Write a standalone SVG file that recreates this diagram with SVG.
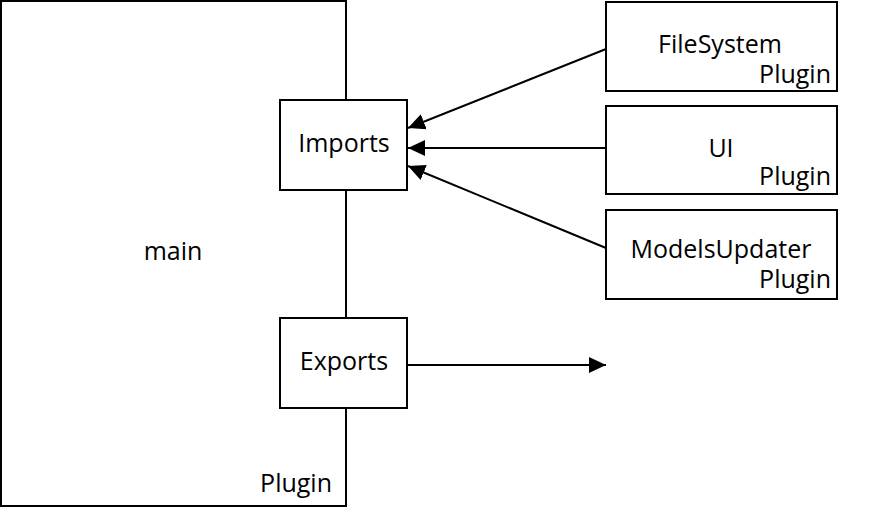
<svg xmlns="http://www.w3.org/2000/svg" width="870" height="508" viewBox="0 0 870 508">
<defs>
<style>
.box{fill:#fff;stroke:#000;stroke-width:2}
.t{font-family:"Open Sans","Noto Sans",sans-serif;font-size:25px;fill:#000}
.m{text-anchor:middle}
.e{text-anchor:end}
.c{stroke:#000;stroke-width:2;fill:none;marker-end:url(#ah)}
</style>
<marker id="ah" markerUnits="userSpaceOnUse" markerWidth="18" markerHeight="18" refX="17" refY="8" orient="auto" viewBox="0 0 18 16">
<path d="M0,0 L17,8 L0,16 z" fill="#000"/>
</marker>
</defs>
<g id="main">
<rect class="box" x="1" y="1" width="345" height="505"/>
<text class="t m" x="173" y="260">main</text>
<text class="t e" x="332" y="492">Plugin</text>
</g>
<g id="imports">
<rect class="box" x="280" y="100" width="127" height="90"/>
<text class="t m" x="344" y="152">Imports</text>
</g>
<g id="exports">
<rect class="box" x="280" y="318" width="127" height="90"/>
<text class="t m" x="344" y="370">Exports</text>
</g>
<g id="filesystem">
<rect class="box" x="606" y="2" width="231" height="89"/>
<text class="t m" x="720" y="53">FileSystem</text>
<text class="t e" x="831" y="83">Plugin</text>
</g>
<g id="ui">
<rect class="box" x="606" y="106" width="231" height="88"/>
<text class="t m" x="721" y="157">UI</text>
<text class="t e" x="831" y="185">Plugin</text>
</g>
<g id="modelsupdater">
<rect class="box" x="606" y="210" width="231" height="89"/>
<text class="t m" x="721" y="258">ModelsUpdater</text>
<text class="t e" x="831" y="288">Plugin</text>
</g>
<g id="connectors">
<line class="c" x1="606" y1="49" x2="408" y2="128"/>
<line class="c" x1="606" y1="148" x2="408" y2="148"/>
<line class="c" x1="606" y1="248" x2="408" y2="166"/>
<line class="c" x1="408" y1="365" x2="606" y2="365"/>
</g>
</svg>
